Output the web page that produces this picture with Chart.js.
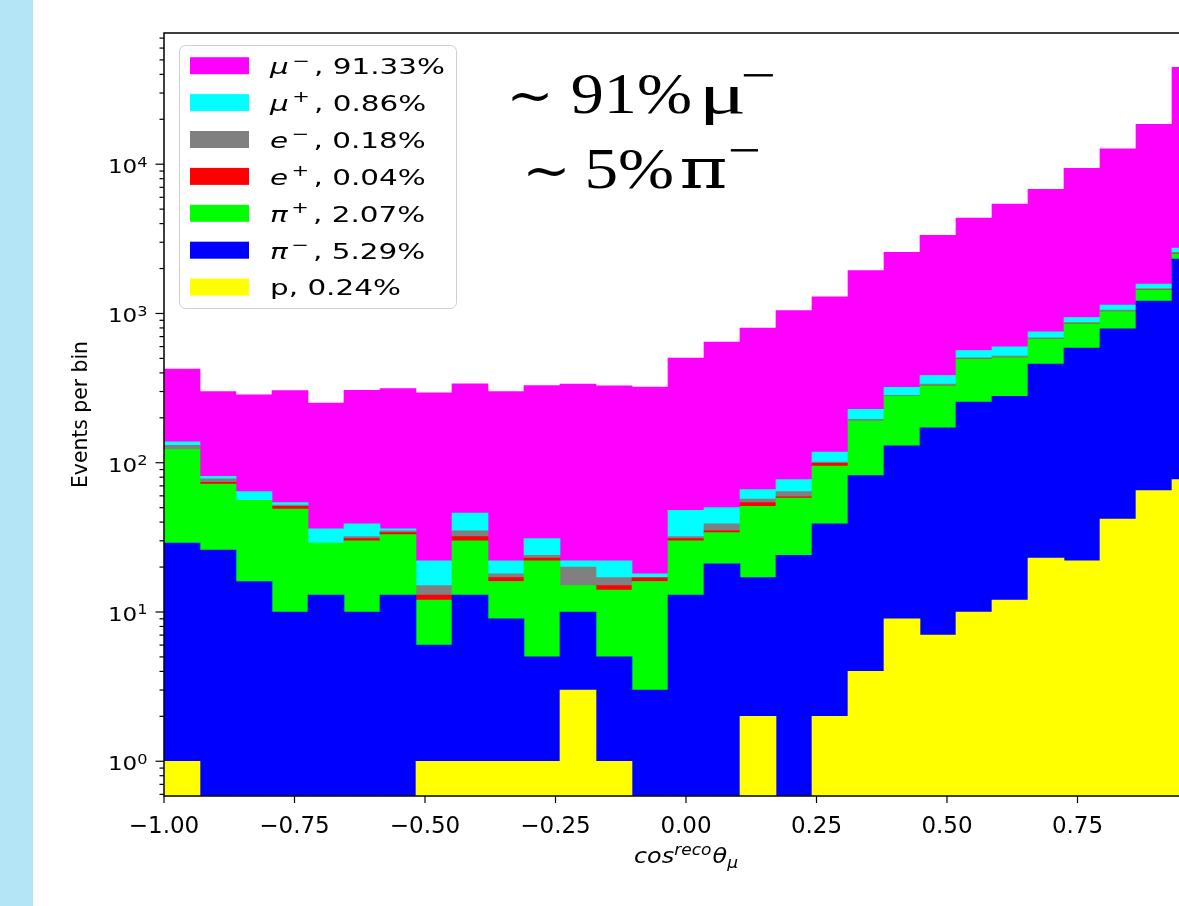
<!DOCTYPE html>
<html>
<head>
<meta charset="utf-8">
<title>Events per bin vs cos reco theta mu</title>
<script src="https://cdn.jsdelivr.net/npm/chart.js@4.4.1/dist/chart.umd.min.js"></script>
<style>
  html, body { margin:0; padding:0; background:#ffffff; width:1179px; height:906px; overflow:hidden; }
  #holder { position:absolute; left:0; top:0; width:1260px; height:906px; }
  #band { position:absolute; left:0; top:0; width:33px; height:906px; background:#b4e5f7; }
</style>
</head>
<body>
<div id="holder"><canvas id="chart" width="1260" height="906"></canvas></div>
<div id="band"></div>
<script>
// ---------------- Data (counts per bin, 29 equal bins on [-1, 1]) ----------------
const histMin = -1, histMax = 1, nBins = 29;
const protons = [1,0,0,0,0,0,0,1,1,1,1,3,1,0,0,0,2,0,2,4,9,7,10,12,23,22,42,65,77];
const piMinus = [28,26,16,10,13,10,13,5,12,8,4,7,4,3,13,21,15,24,37,78,121,164,245,266,435,564,747,1146,2239];
const piPlus  = [94,46,40,39,16,20,20,6,17,7,17,5,9,13,17,13,34,34,56,108,148,157,240,229,215,267,242,225,185];
const ePlus   = [0,2,0,2,0,1,1,1,2,1,1,0,1,1,1,1,3,1,4,0,1,1,1,1,1,1,2,3,5];
const eMinus  = [8,4,0,1,0,1,1,2,3,1,1,5,2,0,1,4,3,5,2,5,4,7,8,10,12,15,20,30,60];
const muPlus  = [7,3,8,2,7,7,1,7,11,4,7,2,5,1,16,11,9,13,17,33,37,48,61,80,68,71,85,105,177];
const muMinus = [286,219,221,250,215,266,278,272,292,278,298,314,306,303,454,593,732,970,1175,1713,2246,2950,3793,4812,6021,8438,11562,16916,41817];

const xTickValues = [-1, -0.75, -0.5, -0.25, 0, 0.25, 0.5, 0.75, 1];
const yDecades = [0.1, 1, 10, 100, 1000, 10000];
const yMultipliers = [1, 2, 3, 4, 5, 6, 7, 8, 9];
const yMin = 0.585, yMax = 75700;

// legend (top to bottom)
const legendSymbols  = ['μ', 'μ', 'e', 'e', 'π', 'π', 'p'];
const legendCharges  = ['−', '+', '−', '+', '+', '−', ''];
const legendPercents = ['91.33%', '0.86%', '0.18%', '0.04%', '2.07%', '5.29%', '0.24%'];
const legendColors   = ['#ff00ff', '#00ffff', '#808080', '#ff0000', '#00ff00', '#0000ff', '#ffff00'];

// stacking order (bottom to top)
const stackSeries  = [protons, piMinus, piPlus, ePlus, eMinus, muPlus, muMinus];
const stackLabels  = ['p', 'π−', 'π+', 'e+', 'e−', 'μ+', 'μ−'];
const stackColors  = ['#ffff00', '#0000ff', '#00ff00', '#ff0000', '#808080', '#00ffff', '#ff00ff'];

// ---------------- Helpers ----------------
const binCenters = Array.from({length: nBins}, (_, i) => histMin + (i + 0.5) * (histMax - histMin) / nBins);
const yTickValues = [];
yDecades.forEach(d => yMultipliers.forEach(m => { const v = +(m * d).toPrecision(6); if (v >= yMin && v <= yMax) yTickValues.push(v); }));
const isPow10 = v => Math.abs(Math.log10(v) - Math.round(Math.log10(v))) < 1e-9;
const SANS = '"DejaVu Sans", sans-serif';
const SERIF = '"Liberation Serif", "DejaVu Serif", serif';
const SERIF2 = '"DejaVu Serif", serif';

function piecesWidth(ctx, pcs) {
  let w = 0;
  pcs.forEach(p => { ctx.font = p.f; w += ctx.measureText(p.t).width + (p.g || 0); });
  return w;
}
function drawPieces(ctx, pcs) {
  let x = 0;
  pcs.forEach(p => { ctx.font = p.f; ctx.fillText(p.t, x, p.dy || 0); x += ctx.measureText(p.t).width + (p.g || 0); });
}
function drawFitted(ctx, pcs, x, y, width, align) {
  const w = piecesWidth(ctx, pcs);
  const sx = width ? width / w : 1;
  const x0 = align === 'right' ? x - w * sx : (align === 'center' ? x - w * sx / 2 : x);
  ctx.save();
  ctx.translate(x0, y);
  ctx.scale(sx, 1);
  drawPieces(ctx, pcs);
  ctx.restore();
}
// draw text so that its ink spans [left, left+width]; baseline given, or ink centred on midY
function drawInk(ctx, text, font, left, width, baseline, midY) {
  ctx.font = font;
  const m = ctx.measureText(text);
  const inkW = m.actualBoundingBoxLeft + m.actualBoundingBoxRight;
  const sx = width / inkW;
  let by = baseline;
  if (midY !== undefined) by = midY + (m.actualBoundingBoxAscent - m.actualBoundingBoxDescent) / 2;
  ctx.save();
  ctx.translate(left + m.actualBoundingBoxLeft * sx, by);
  ctx.scale(sx, 1);
  ctx.fillText(text, 0, 0);
  ctx.restore();
}

// ---------------- Decorations plugin ----------------
const decorations = {
  id: 'decorations',
  afterDraw(chart) {
    const ctx = chart.ctx, a = chart.chartArea, xs = chart.scales.x, ys = chart.scales.y;
    ctx.save();
    ctx.textAlign = 'left';
    ctx.textBaseline = 'alphabetic';
    ctx.fillStyle = '#000';
    ctx.strokeStyle = '#000';

    // y ticks + labels
    ctx.lineWidth = 1.2;
    ys.ticks.forEach(t => {
      const py = ys.getPixelForValue(t.value);
      if (py < a.top - 0.5 || py > a.bottom + 0.5) return;
      const major = isPow10(t.value);
      const len = major ? 8.5 : 4.5;
      ctx.beginPath(); ctx.moveTo(a.left - len, py); ctx.lineTo(a.left, py); ctx.stroke();
      if (major) {
        const e = String(Math.round(Math.log10(t.value)));
        drawFitted(ctx, [{t: '10', f: '20px ' + SANS}, {t: e, f: '14px ' + SANS, dy: -6.6}], 147.5, py + 9, 39.6, 'right');
      }
    });
    // x ticks
    xs.ticks.forEach(t => {
      const px = xs.getPixelForValue(t.value);
      ctx.beginPath(); ctx.moveTo(px, a.bottom); ctx.lineTo(px, a.bottom + 7); ctx.stroke();
    });
    // frame
    ctx.lineWidth = 1.5;
    ctx.strokeRect(a.left, a.top, a.right - a.left, a.bottom - a.top);

    // legend
    ctx.beginPath();
    ctx.roundRect(179.5, 45.5, 277, 263, 6);
    ctx.fillStyle = 'rgba(255,255,255,0.8)';
    ctx.fill();
    ctx.strokeStyle = '#cfcfcf';
    ctx.lineWidth = 1;
    ctx.stroke();
    const rows = legendSymbols.map((s, i) => legendCharges[i]
      ? [{t: s, f: 'italic 21px ' + SANS, g: 2.5}, {t: legendCharges[i], f: '15px ' + SANS, dy: -8.5, g: 3}, {t: ', ' + legendPercents[i], f: '21px ' + SANS}]
      : [{t: s + ', ' + legendPercents[i], f: '21px ' + SANS}]);
    const lsx = 175 / piecesWidth(ctx, rows[0]);
    rows.forEach((r, i) => {
      const yc = 65.7 + i * 36.9;
      ctx.fillStyle = legendColors[i];
      ctx.fillRect(190, yc - 8.5, 59, 17);
      ctx.fillStyle = '#000';
      ctx.save(); ctx.translate(270, yc + 8.3); ctx.scale(lsx, 1); drawPieces(ctx, r); ctx.restore();
    });

    // annotation
    ctx.fillStyle = '#000';
    drawInk(ctx, '~', '50px ' + SERIF2, 512, 36, undefined, 97);
    drawInk(ctx, '91%', '56px ' + SERIF, 572, 118, 113);
    drawInk(ctx, 'μ', '56px ' + SERIF, 705, 38, 113);
    drawInk(ctx, '−', '50px ' + SERIF, 743, 30, undefined, 75);
    drawInk(ctx, '~', '50px ' + SERIF2, 528, 37, undefined, 172);
    drawInk(ctx, '5%', '56px ' + SERIF, 588, 84, 188);
    drawInk(ctx, 'π', '56px ' + SERIF2, 682, 43, 188);
    drawInk(ctx, '−', '50px ' + SERIF, 730, 28, undefined, 150);

    // x title
    const xt = [{t: 'cos', f: 'italic 21px ' + SANS}, {t: 'reco', f: 'italic 15px ' + SANS, dy: -8, g: 1}, {t: 'θ', f: 'italic 21px ' + SANS}, {t: 'μ', f: 'italic 15px ' + SANS, dy: 5}];
    drawFitted(ctx, xt, 686, 863, 104, 'center');

    // y title
    ctx.save();
    ctx.translate(86.5, 414.5);
    ctx.rotate(-Math.PI / 2);
    ctx.font = '22px "DejaVu Sans Condensed", "DejaVu Sans", sans-serif';
    const tw = ctx.measureText('Events per bin').width;
    ctx.scale(147 / tw, 1);
    ctx.textAlign = 'center';
    ctx.fillText('Events per bin', 0, 0);
    ctx.restore();

    ctx.restore();
  }
};

// ---------------- Chart ----------------
const datasets = stackSeries.map((vals, k) => ({
  label: stackLabels[k],
  data: vals.map((v, i) => ({x: binCenters[i], y: v})),
  backgroundColor: stackColors[k],
  borderWidth: 0,
  grouped: false,
  barPercentage: 1,
  categoryPercentage: 1
}));

new Chart(document.getElementById('chart'), {
  type: 'bar',
  data: {datasets},
  options: {
    responsive: false,
    animation: false,
    devicePixelRatio: 1,
    layout: {padding: {top: 33, right: 52, left: 0, bottom: 0}},
    plugins: {legend: {display: false}, tooltip: {enabled: false}},
    scales: {
      x: {
        type: 'linear', min: histMin, max: histMax, offset: false,
        grid: {display: false, drawTicks: false}, border: {display: false},
        afterBuildTicks: s => { s.ticks = xTickValues.map(v => ({value: v})); },
        afterFit: s => { s.height = 110; },
        ticks: {
          font: {family: 'DejaVu Sans', size: 23}, color: '#000', padding: 17,
          maxRotation: 0, autoSkip: false,
          callback: v => (v < 0 ? '\u2212' : '') + Math.abs(v).toFixed(2)
        }
      },
      y: {
        type: 'logarithmic', stacked: true, min: yMin, max: yMax,
        grid: {display: false, drawTicks: false}, border: {display: false},
        afterBuildTicks: s => { s.ticks = yTickValues.map(v => ({value: v, major: isPow10(v)})); },
        afterFit: s => { s.width = 164; },
        ticks: {display: false, autoSkip: false}
      }
    }
  },
  plugins: [decorations]
});
</script>
</body>
</html>
